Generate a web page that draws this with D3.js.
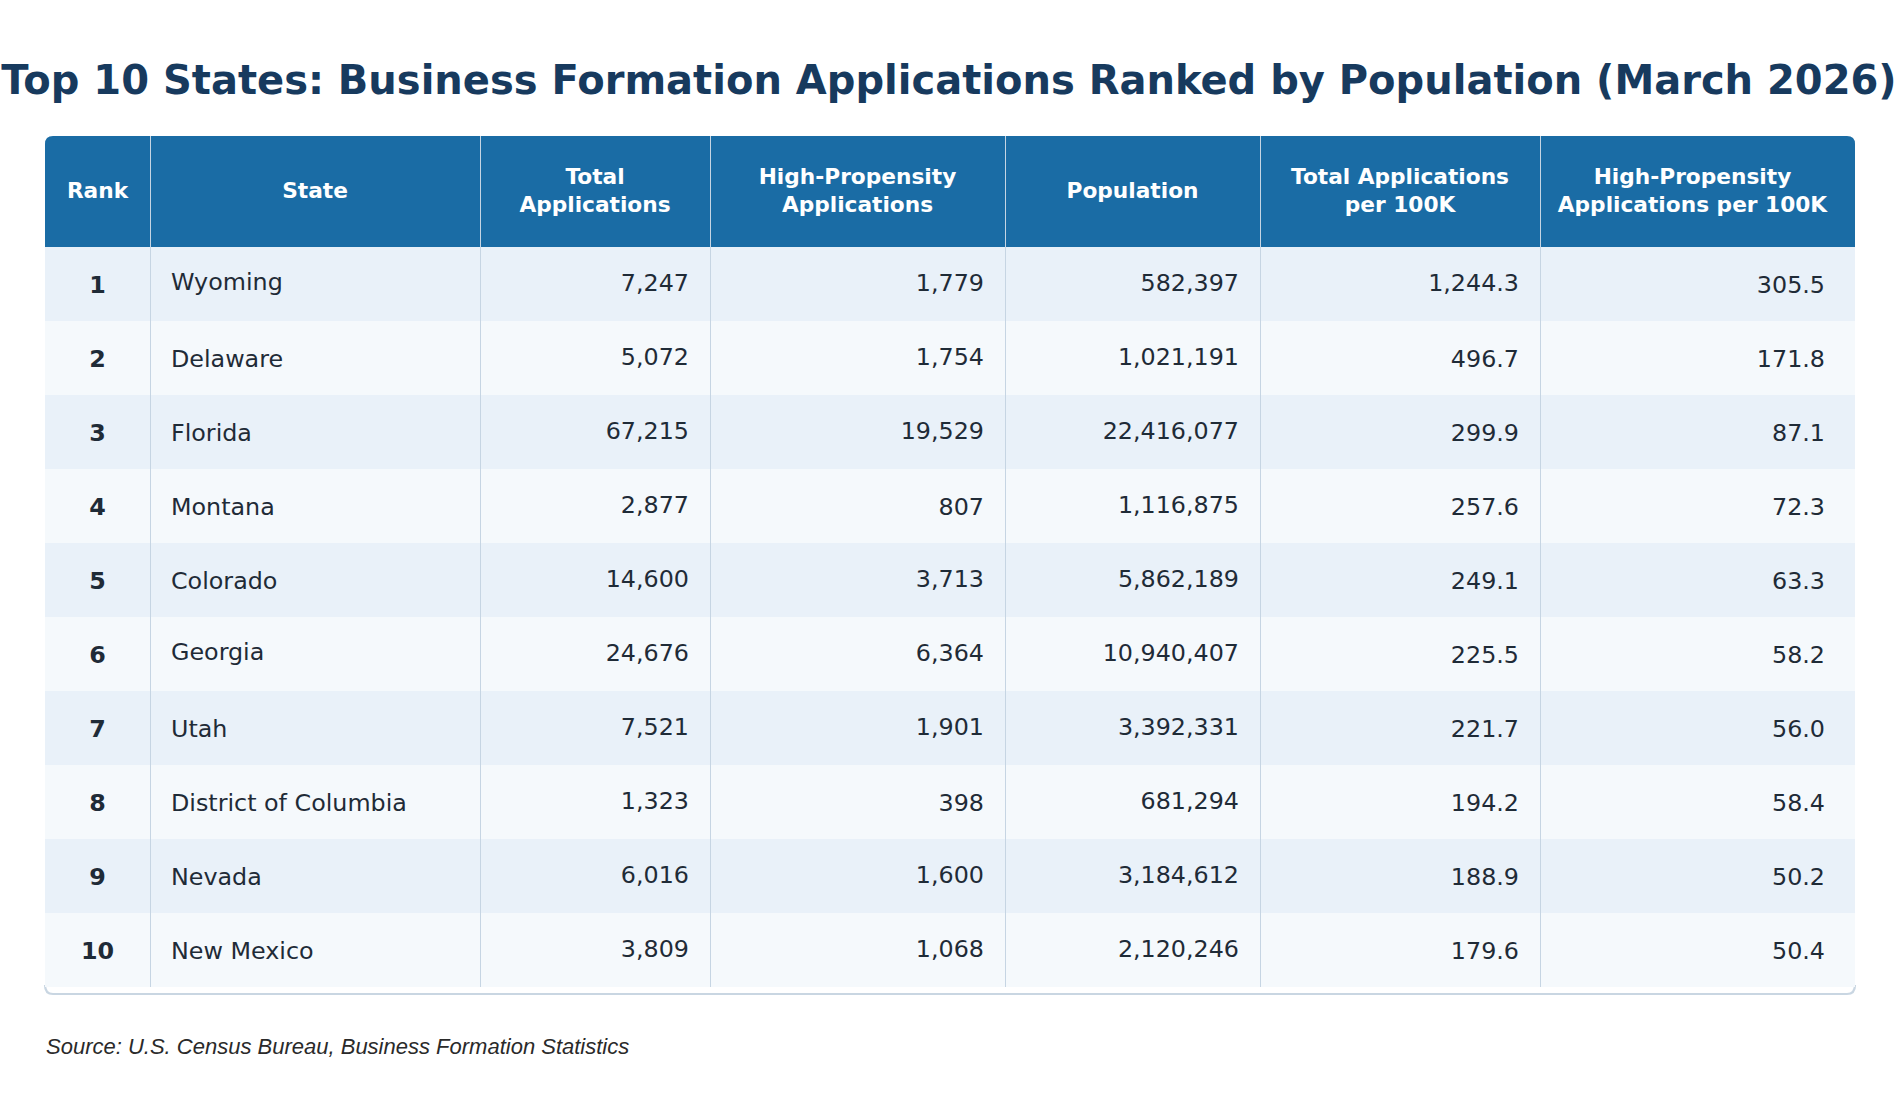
<html>
<head>
<meta charset="utf-8">
<script src="https://cdnjs.cloudflare.com/ajax/libs/d3/7.8.5/d3.min.js"></script>
<style>
  body { margin: 0; background: #ffffff; }
  svg { display: block; }
</style>
</head>
<body>
<svg id="chart" width="1900" height="1105"></svg>
<script>
// table values
const ranks = [1, 2, 3, 4, 5, 6, 7, 8, 9, 10];
const states = ["Wyoming", "Delaware", "Florida", "Montana", "Colorado", "Georgia", "Utah",
                "District of Columbia", "Nevada", "New Mexico"];
const totalApps = [7247, 5072, 67215, 2877, 14600, 24676, 7521, 1323, 6016, 3809];
const highPropApps = [1779, 1754, 19529, 807, 3713, 6364, 1901, 398, 1600, 1068];
const population = [582397, 1021191, 22416077, 1116875, 5862189, 10940407, 3392331, 681294, 3184612, 2120246];
const totalPer100k = [1244.3, 496.7, 299.9, 257.6, 249.1, 225.5, 221.7, 194.2, 188.9, 179.6];
const highPer100k = [305.5, 171.8, 87.1, 72.3, 63.3, 58.2, 56.0, 58.4, 50.2, 50.4];
const headers = [["Rank"], ["State"], ["Total", "Applications"], ["High-Propensity", "Applications"],
                 ["Population"], ["Total Applications", "per 100K"], ["High-Propensity", "Applications per 100K"]];

const title = "Top 10 States: Business Formation Applications Ranked by Population (March 2026)";
const source = "Source: U.S. Census Bureau, Business Formation Statistics";

const fmtInt = d3.format(",");
const fmtDec = d3.format(",.1f");

const svg = d3.select("#chart");

// layout
const tLeft = 45, tTop = 136, headH = 111, tBottom = 987;
const colWidths = [105, 330, 230, 295, 255, 280, 315];
const edges = [tLeft].concat(Array.from(d3.cumsum(colWidths), d => tLeft + d));
const tRight = edges[edges.length - 1];

const y = d3.scaleBand().domain(ranks).range([tTop + headH, tBottom]).padding(0);

const cols = [
  { vals: ranks, fmt: d => d, align: "middle", bold: true },
  { vals: states, fmt: d => d, align: "start" },
  { vals: totalApps, fmt: fmtInt, align: "end" },
  { vals: highPropApps, fmt: fmtInt, align: "end" },
  { vals: population, fmt: fmtInt, align: "end" },
  { vals: totalPer100k, fmt: fmtDec, align: "end" },
  { vals: highPer100k, fmt: fmtDec, align: "end", pad: 30 }
];

// rough ink extent so text is centred like the source (descenders lift it a bit)
function baselineFor(str, cy, fs) {
  let topE = 0.547, botE = 0;
  for (const ch of String(str)) {
    if (/[A-Z0-9]/.test(ch)) topE = Math.max(topE, 0.729);
    if (/[bdfhklt]/.test(ch)) topE = Math.max(topE, 0.76);
    if (/[gjpqy]/.test(ch)) botE = Math.max(botE, 0.236);
    if (ch === ",") botE = Math.max(botE, 0.12);
  }
  return cy + (topE - botE) / 2 * fs;
}

// title
svg.append("text")
  .attr("x", 949).attr("y", 94)
  .attr("text-anchor", "middle")
  .style("font-family", "DejaVu Sans")
  .style("font-weight", "bold")
  .style("font-size", "40px")
  .style("fill", "#173a5e")
  .text(title);

// bottom edge of the card
svg.append("path")
  .attr("d", `M${tLeft},${tBottom - 2} Q${tLeft},${tBottom + 7} ${tLeft + 8},${tBottom + 7} H${tRight - 8} Q${tRight},${tBottom + 7} ${tRight},${tBottom - 2}`)
  .attr("fill", "none")
  .attr("stroke", "#c9d6e2")
  .attr("stroke-width", 2.2);

// header band, rounded top corners
svg.append("path")
  .attr("d", `M${tLeft},${tTop + headH} V${tTop + 8} Q${tLeft},${tTop} ${tLeft + 8},${tTop} H${tRight - 8} Q${tRight},${tTop} ${tRight},${tTop + 8} V${tTop + headH} Z`)
  .attr("fill", "#1a6ca5");

// striped rows
svg.selectAll("rect.row")
  .data(ranks)
  .join("rect")
  .attr("class", "row")
  .attr("x", tLeft)
  .attr("y", d => y(d))
  .attr("width", tRight - tLeft)
  .attr("height", y.bandwidth())
  .attr("fill", (d, i) => i % 2 === 0 ? "#e9f1f9" : "#f5f9fc");

// column separators
svg.selectAll("line.sep")
  .data(edges.slice(1, -1))
  .join("line")
  .attr("class", "sep")
  .attr("x1", d => d + 0.5).attr("x2", d => d + 0.5)
  .attr("y1", tTop).attr("y2", tBottom)
  .attr("stroke", "#c6d5e3")
  .attr("stroke-width", 1);

// header labels
const hfs = 21.7, hLine = 28.3;
const hcy = tTop + headH / 2 - 1.2;
headers.forEach((lines, c) => {
  const cx = (edges[c] + edges[c + 1]) / 2 - (c === headers.length - 1 ? 5 : 0);
  const t = svg.append("text")
    .attr("text-anchor", "middle")
    .style("font-family", "DejaVu Sans")
    .style("font-weight", "bold")
    .style("font-size", hfs + "px")
    .style("fill", "#ffffff");
  lines.forEach((ln, k) => {
    const cyLine = hcy + (k - (lines.length - 1) / 2) * hLine;
    t.append("tspan")
      .attr("x", cx)
      .attr("y", cyLine + 0.36 * hfs)
      .text(ln);
  });
});

// cells
const fs = 23.8;
cols.forEach((col, c) => {
  const x0 = edges[c], x1 = edges[c + 1];
  const pad = col.pad || 21;
  const tx = col.align === "middle" ? (x0 + x1) / 2 : col.align === "start" ? x0 + 21 : x1 - pad;
  svg.append("g").selectAll("text")
    .data(col.vals)
    .join("text")
    .attr("x", tx)
    .attr("y", (d, i) => baselineFor(col.fmt(d), y(ranks[i]) + y.bandwidth() / 2, fs))
    .attr("text-anchor", col.align)
    .style("font-family", "DejaVu Sans")
    .style("font-weight", col.bold ? "bold" : "normal")
    .style("font-size", fs + "px")
    .style("fill", "#1f2b37")
    .text(d => col.fmt(d));
});

// source note
svg.append("text")
  .attr("x", 46).attr("y", 1054)
  .style("font-family", "Liberation Sans, Arial, sans-serif")
  .style("font-style", "italic")
  .style("font-size", "22px")
  .style("fill", "#2a2a2a")
  .text(source);
</script>
</body>
</html>
